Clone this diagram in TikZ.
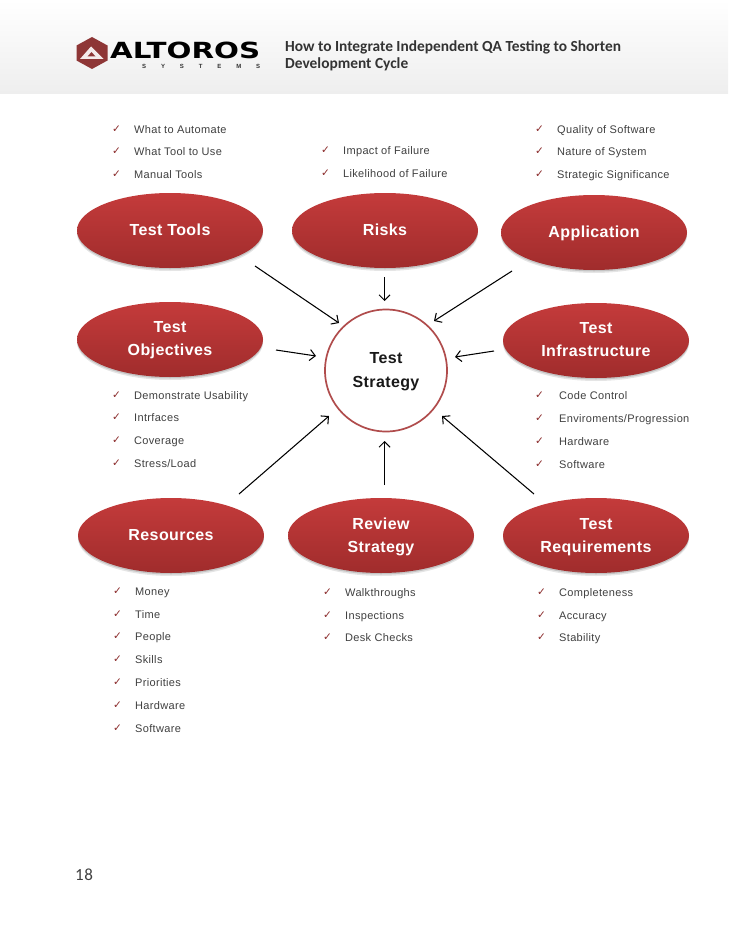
\documentclass[tikz,border=0pt]{standalone}
\usepackage{fontspec}
\usepackage{graphicx}
\usetikzlibrary{arrows.meta,shapes.geometric,shadows}
\setmainfont{Liberation Sans}
\newfontfamily\bodyfont[LetterSpace=3]{Liberation Sans}
\newfontfamily\lblfont[LetterSpace=2.5]{Liberation Sans Bold}
\newfontfamily\sysfont{Liberation Sans Bold}
\newfontfamily\titlefont{Carlito Bold}
\newfontfamily\numfont[LetterSpace=4]{Carlito}
\newfontfamily\chkfont{DejaVu Sans Bold}
\newfontfamily\logofont{DejaVu Sans Bold}
\definecolor{redtop}{HTML}{C43B3B}
\definecolor{redmid}{HTML}{CB3D3D}
\definecolor{redbot}{HTML}{A02C2C}
\definecolor{ringred}{HTML}{B04C4C}
\definecolor{headgrey}{HTML}{EEEEEE}
\definecolor{titlegrey}{HTML}{333333}
\definecolor{logored}{HTML}{8E3636}
\definecolor{listgrey}{HTML}{404040}
\definecolor{tickred}{HTML}{8A2A2A}
\tikzset{
  oval/.style={ellipse,minimum width=186pt,minimum height=75pt,inner sep=0pt,
    top color=redtop,middle color=redmid,bottom color=redbot,shading angle=0,
    text=white,align=center,font={\lblfont\fontsize{16}{23}\selectfont},
    drop shadow={shadow xshift=0pt,shadow yshift=-3pt,opacity=.10,fill=black},
    drop shadow={shadow xshift=0pt,shadow yshift=-1.5pt,opacity=.14,fill=black}},
  ring/.style={circle,draw=ringred,line width=1.7pt,fill=white,minimum size=122pt,inner sep=0pt,
    align=center,font={\lblfont\fontsize{16}{24}\selectfont},text=black!90},
  flow/.style={-{Straight Barb[length=5.5pt,width=11pt]},line width=1.05pt,black},
  item/.style={anchor=base west,inner sep=0pt,text=listgrey,font={\bodyfont\fontsize{11}{13}\selectfont}},
  tick/.style={anchor=base,inner sep=0pt,text=tickred,font={\chkfont\fontsize{10.5}{12}\selectfont}},
  headtext/.style={anchor=base west,inner sep=0pt,text=titlegrey,font={\titlefont\fontsize{15.4}{18}\selectfont}}
}
\newcommand{\lnup}{\rule{0pt}{18.1pt}}
\newcommand{\listrow}[5]{% name, tick x, text x, centre y, text
  \node[tick] (#1t) at (#2,-#4-3.6) {✓};
  \node[item] (#1) at (#3,-#4-4) {#5};
}
\begin{document}
\begin{tikzpicture}[x=1pt,y=1pt]
\useasboundingbox (0,0) rectangle (728,-942);
\fill[white] (0,0) rectangle (728,-942);
\shade[top color=white,bottom color=headgrey] (0,0) rectangle (728,-93);

% logo
\fill[logored] (92,-37) -- (107.5,-45.5) -- (107.5,-60.5) -- (92,-69) -- (76.5,-60.5) -- (76.5,-45.5) -- cycle;
\fill[white!90!logored] (91,-46.5) -- (103.5,-59) -- (80,-59) -- cycle;
\fill[logored] (91.5,-52) -- (95.5,-56.5) -- (87.5,-56.5) -- cycle;
\node[inner sep=0pt,anchor=base west] (logoname) at (110,-58.5)
  {\resizebox{150pt}{16.5pt}{\logofont ALTOROS}};
\node[inner sep=0pt,anchor=base west,font={\sysfont\fontsize{6}{6}\selectfont},text=black!80] (logosub) at (142,-68)
  {\makebox[118pt][s]{S\hfill Y\hfill S\hfill T\hfill E\hfill M\hfill S}};

\node[headtext] (title1) at (285,-52) {How to Integrate Independent QA Testing to Shorten};
\node[headtext] (title2) at (285,-69) {Development Cycle};

% ovals
\node[oval] (tools) at (170,-230.5) {\strut Test Tools};
\node[oval] (risks) at (385,-230.5) {\strut Risks};
\node[oval] (app) at (594,-232.5) {\rule{0pt}{17pt}\strut Application};
\node[oval] (obj) at (170,-339.5) {\strut Test\\\strut Objectives};
\node[oval] (infra) at (596,-340.5) {\strut Test\\\strut Infrastructure};
\node[oval] (res) at (171,-535.5) {\strut Resources};
\node[oval] (rev) at (381,-535.5) {\lnup\strut Review\\\strut Strategy};
\node[oval] (req) at (596,-535.5) {\lnup\strut Test\\\strut Requirements};

% centre
\node[ring] (centre) at (386,-370.5) {\rule{0pt}{13pt}Test\\Strategy};

% connector ends
\coordinate (a1) at (255,-266);  \coordinate (b1) at (339,-323);
\coordinate (a2) at (384.5,-277);\coordinate (b2) at (384.5,-301);
\coordinate (a3) at (512,-271);  \coordinate (b3) at (434,-321);
\coordinate (a4) at (276,-350);  \coordinate (b4) at (316,-356);
\coordinate (a5) at (494,-351);  \coordinate (b5) at (455,-357);
\coordinate (a6) at (239,-494);  \coordinate (b6) at (329,-416);
\coordinate (a7) at (384.5,-485);\coordinate (b7) at (384.5,-441);
\coordinate (a8) at (534,-494);  \coordinate (b8) at (442,-416);
\foreach \n in {1,...,8} \draw[flow] (a\n) -- (b\n);

% lists
\listrow{l1}{116.5}{134}{129}{What to Automate}
\listrow{l2}{116.5}{134}{151}{What Tool to Use}
\listrow{l3}{116.5}{134}{174}{Manual Tools}
\listrow{l4}{325.5}{343}{150}{Impact of Failure}
\listrow{l5}{325.5}{343}{173}{Likelihood of Failure}
\listrow{l6}{539.5}{557}{129}{Quality of Software}
\listrow{l7}{539.5}{557}{151}{Nature of System}
\listrow{l8}{539.5}{557}{174}{Strategic Significance}
\listrow{l9}{116.5}{134}{395}{Demonstrate Usability}
\listrow{l10}{116.5}{134}{417}{Intrfaces}
\listrow{l11}{116.5}{134}{440}{Coverage}
\listrow{l12}{116.5}{134}{463}{Stress/Load}
\listrow{l13}{539.5}{559}{395}{Code Control}
\listrow{l14}{539.5}{559}{418}{Enviroments/Progression}
\listrow{l15}{539.5}{559}{441}{Hardware}
\listrow{l16}{539.5}{559}{464}{Software}
\listrow{l17}{117.5}{135}{591}{Money}
\listrow{l18}{117.5}{135}{614}{Time}
\listrow{l19}{117.5}{135}{636}{People}
\listrow{l20}{117.5}{135}{659}{Skills}
\listrow{l21}{117.5}{135}{682}{Priorities}
\listrow{l22}{117.5}{135}{705}{Hardware}
\listrow{l23}{117.5}{135}{728}{Software}
\listrow{l24}{327.5}{345}{592}{Walkthroughs}
\listrow{l25}{327.5}{345}{615}{Inspections}
\listrow{l26}{327.5}{345}{637}{Desk Checks}
\listrow{l27}{541.5}{559}{592}{Completeness}
\listrow{l28}{541.5}{559}{615}{Accuracy}
\listrow{l29}{541.5}{559}{637}{Stability}

\node[anchor=base west,inner sep=0pt,text=listgrey,font={\numfont\fontsize{17}{20}\selectfont}] (pagenum) at (75,-880) {18};
\end{tikzpicture}
\end{document}
